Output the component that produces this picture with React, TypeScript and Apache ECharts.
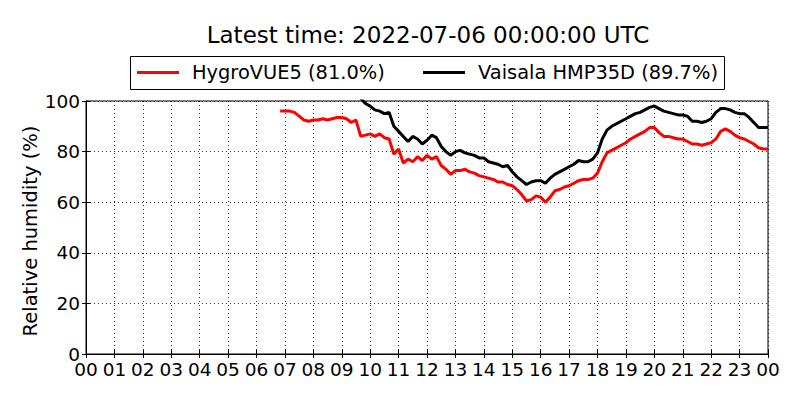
import React, { useEffect, useRef } from "react";
import * as echarts from "echarts";

// Sampling: 10-minute readings, times in hours of day
const SAMPLE_STEP_H = 10 / 60;
const redStartH = 6 + 50 / 60;   // HygroVUE5 first reading 06:50
const blackStartH = 9 + 40 / 60; // Vaisala first reading 09:40

const seriesNames = ["HygroVUE5 (81.0%)", "Vaisala HMP35D (89.7%)"];
const seriesColors = ["#ff0000", "#000000"];

const hygroVue5 = [
  96, 96, 96, 95.5, 94, 92.5, 92, 92.5, 92.5, 93, 92.5, 93, 93.5, 93.5, 93, 91.5, 92.5,
  86, 86.5, 87, 86, 87, 85.5, 85, 79, 81, 75.5, 77, 76, 78, 76.5, 78.5, 77, 78, 74.5,
  73, 71, 72.5, 72.5, 73, 72, 71.5, 70.5, 70, 69.5, 69, 68, 68, 67, 66.5, 65, 63, 60.5,
  61, 62.5, 62, 60, 62, 64.5, 65, 66, 66.5, 67.5, 68.5, 69, 69, 69.5, 71.5, 76, 79.5,
  80.5, 81.5, 82.5, 83.5, 85, 86, 87, 88, 89.5, 89.5, 87.5, 86, 86, 85.5, 85, 85, 84,
  83, 83, 82.5, 83, 83.5, 85, 88, 89, 88, 86.5, 85.5, 85, 84, 83, 81.5, 81, 81,
];

const vaisalaHMP35D = [
  101, 99, 98, 96.5, 96, 95, 95.5, 90, 88, 86, 84, 86, 85, 83, 84.5, 86.5, 85.5, 82,
  80, 78.5, 80, 80.5, 79.5, 79, 78.5, 77.5, 77.5, 76, 75.5, 75, 74, 74.5, 72, 70, 68.5,
  67, 68, 68.5, 68.5, 67.5, 69.5, 71, 72, 73, 74, 75, 76.5, 76, 76, 77, 79.5, 85, 88.5,
  90, 91, 92, 93, 94, 95, 95.5, 96.5, 97.5, 98, 97, 96, 95.5, 95, 94.5, 94.5, 94, 92,
  92, 91.5, 92, 93, 95.5, 97, 97, 96.5, 95.5, 95, 95, 93.5, 91.5, 89.5, 89.5, 89.5,
];

const yTicks = [0, 20, 40, 60, 80, 100];
const hourTicks = Array.from({ length: 25 }, (_, i) => i);

const titleText = "Latest time: 2022-07-06 00:00:00 UTC";
const yAxisName = "Relative humidity (%)";

const FONT = "DejaVu Sans";

function toPairs(startH: number, values: number[]) {
  return values.map((v, i) => [startH + i * SAMPLE_STEP_H, v]);
}

export default function App() {
  const ref = useRef<HTMLDivElement>(null);

  useEffect(() => {
    if (!ref.current) return;
    const chart = echarts.init(ref.current, undefined, { renderer: "svg" });

    const gridLeft = 86;
    const gridRight = 32;
    const gridTop = 101;
    const gridBottom = 46;

    const legendY = 72.5;
    const dotted = { color: "#000", width: 0.8, type: [1, 3] };
    const inTick = { show: true, inside: true, length: 4, lineStyle: { color: "#000", width: 1 } };

    const xBase = {
      type: "value",
      min: hourTicks[0],
      max: hourTicks[hourTicks.length - 1],
      interval: 1,
      axisLine: { show: true, lineStyle: { color: "#000", width: 1 } },
      axisTick: inTick,
    };
    const yBase = {
      type: "value",
      min: yTicks[0],
      max: yTicks[yTicks.length - 1],
      interval: 20,
      axisLine: { show: true, lineStyle: { color: "#000", width: 1 } },
      axisTick: inTick,
    };

    chart.setOption({
      animation: false,
      backgroundColor: "#ffffff",
      textStyle: { fontFamily: FONT },
      grid: {
        left: gridLeft,
        right: gridRight,
        top: gridTop,
        bottom: gridBottom,
        show: true,
        borderColor: "#000",
        borderWidth: 1,
        backgroundColor: "transparent",
      },
      xAxis: [
        {
          ...xBase,
          position: "bottom",
          axisLabel: {
            color: "#000",
            fontSize: 18.5,
            lineHeight: 16,
            fontFamily: FONT,
            margin: 7,
            showMinLabel: true,
            showMaxLabel: true,
            formatter: (v: number) => String(Math.round(v) % 24).padStart(2, "0"),
          },
          splitLine: { show: true, lineStyle: dotted },
        },
        {
          ...xBase,
          position: "top",
          axisLabel: { show: false },
          splitLine: { show: false },
        },
      ],
      yAxis: [
        {
          ...yBase,
          position: "left",
          axisLabel: {
            color: "#000",
            fontSize: 18.5,
            lineHeight: 14,
            fontFamily: FONT,
            margin: 6,
          },
          splitLine: { show: true, lineStyle: dotted },
        },
        {
          ...yBase,
          position: "right",
          axisLabel: { show: false },
          splitLine: { show: false },
        },
      ],
      series: [
        {
          name: seriesNames[0],
          type: "line",
          data: toPairs(redStartH, hygroVue5),
          showSymbol: false,
          clip: true,
          lineStyle: { color: seriesColors[0], width: 3 },
          itemStyle: { color: seriesColors[0] },
        },
        {
          name: seriesNames[1],
          type: "line",
          data: toPairs(blackStartH, vaisalaHMP35D),
          showSymbol: false,
          clip: true,
          lineStyle: { color: seriesColors[1], width: 3 },
          itemStyle: { color: seriesColors[1] },
        },
      ],
      graphic: [
        {
          type: "text",
          x: 428,
          y: 35,
          style: {
            text: titleText,
            fontSize: 23,
            fontFamily: FONT,
            fill: "#000",
            align: "center",
            verticalAlign: "middle",
          },
        },
        {
          type: "text",
          x: 30,
          y: 231,
          rotation: Math.PI / 2,
          style: {
            text: yAxisName,
            fontSize: 19.5,
            fontFamily: FONT,
            fill: "#000",
            align: "center",
            verticalAlign: "middle",
          },
        },
        {
          type: "rect",
          shape: { x: 130.5, y: 56.5, width: 594, height: 33 },
          style: { fill: "#fff", stroke: "#000", lineWidth: 1 },
        },
        {
          type: "line",
          shape: { x1: 137, y1: legendY, x2: 179, y2: legendY },
          style: { stroke: seriesColors[0], lineWidth: 3 },
        },
        {
          type: "text",
          x: 192,
          y: legendY,
          style: {
            text: seriesNames[0],
            fontSize: 19.4,
            fontFamily: FONT,
            fill: "#000",
            align: "left",
            verticalAlign: "middle",
          },
        },
        {
          type: "line",
          shape: { x1: 423, y1: legendY, x2: 465, y2: legendY },
          style: { stroke: seriesColors[1], lineWidth: 3 },
        },
        {
          type: "text",
          x: 478,
          y: legendY,
          style: {
            text: seriesNames[1],
            fontSize: 19.4,
            fontFamily: FONT,
            fill: "#000",
            align: "left",
            verticalAlign: "middle",
          },
        },
      ],
    });

    return () => chart.dispose();
  }, []);

  return (
    <div
      ref={ref}
      style={{ position: "fixed", left: 0, top: 0, width: 800, height: 400 }}
    />
  );
}
